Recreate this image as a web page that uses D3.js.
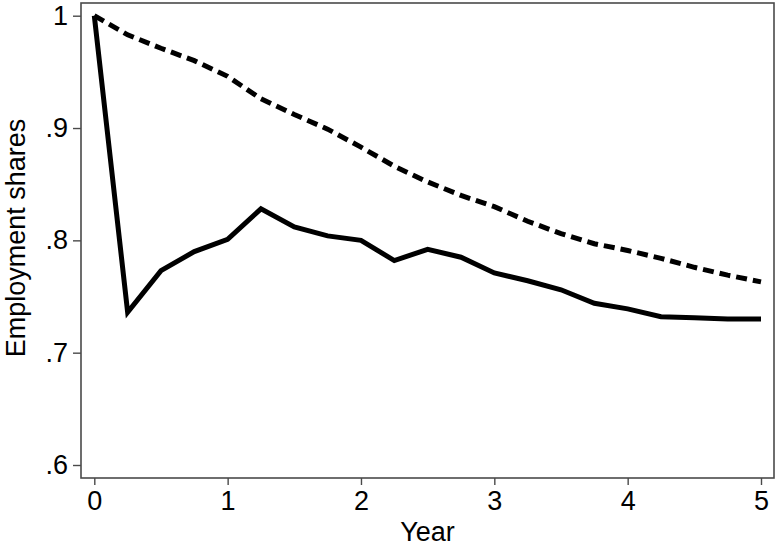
<!DOCTYPE html>
<html>
<head>
<meta charset="utf-8">
<script src="https://cdn.jsdelivr.net/npm/d3@7"></script>
<style>
  body { margin: 0; background: #fff; }
  text { font-family: "Liberation Sans", Arial, sans-serif; fill: #000; }
</style>
</head>
<body>
<div id="chart"></div>
<script>
const years = [0, 0.25, 0.5, 0.75, 1, 1.25, 1.5, 1.75, 2, 2.25, 2.5,
               2.75, 3, 3.25, 3.5, 3.75, 4, 4.25, 4.5, 4.75, 5];
const solidShares = [1.000, 0.736, 0.773, 0.790, 0.801, 0.828, 0.812, 0.804, 0.800, 0.782, 0.792,
                     0.785, 0.771, 0.764, 0.756, 0.744, 0.739, 0.732, 0.731, 0.730, 0.730];
const dashedShares = [1.000, 0.983, 0.971, 0.960, 0.946, 0.926, 0.912, 0.899, 0.883, 0.866, 0.852,
                      0.840, 0.830, 0.817, 0.806, 0.797, 0.791, 0.784, 0.776, 0.769, 0.763];
const xTicks = [0, 1, 2, 3, 4, 5];
const yTicks = [0.6, 0.7, 0.8, 0.9, 1];

const width = 777;
const height = 546;
const frame = { left: 81, top: 3, right: 774, bottom: 478 };

const svg = d3.select("#chart")
  .append("svg")
  .attr("width", width)
  .attr("height", height);

const xScale = d3.scaleLinear()
  .domain([0, 5])
  .range([94.3, 761]);

const yScale = d3.scaleLinear()
  .domain([0.6, 1])
  .range([465, 15.7]);

// plot frame
svg.append("rect")
  .attr("x", frame.left)
  .attr("y", frame.top)
  .attr("width", frame.right - frame.left)
  .attr("height", frame.bottom - frame.top)
  .attr("fill", "none")
  .attr("stroke", "#4a4a4a")
  .attr("stroke-width", 1.6);

const yAxis = svg.append("g")
  .attr("transform", `translate(${frame.left}, 0)`)
  .call(d3.axisLeft(yScale)
    .tickValues(yTicks)
    .tickSize(8)
    .tickPadding(5)
    .tickFormat(d => d === 1 ? "1" : d3.format(".1f")(d).replace(/^0/, "")));

const xAxis = svg.append("g")
  .attr("transform", `translate(0, ${frame.bottom})`)
  .call(d3.axisBottom(xScale)
    .tickValues(xTicks)
    .tickSize(7)
    .tickPadding(6)
    .tickFormat(d3.format("d")));

[xAxis, yAxis].forEach(ax => {
  ax.select(".domain").remove();
  ax.selectAll(".tick line").attr("stroke", "#4a4a4a").attr("stroke-width", 1.4);
  ax.selectAll(".tick text")
    .style("font-size", "27px")
    .style("font-family", "'Liberation Sans', Arial, sans-serif")
    .attr("fill", "#000");
});

svg.append("text")
  .attr("x", (frame.left + frame.right) / 2)
  .attr("y", 541)
  .attr("text-anchor", "middle")
  .style("font-size", "27px")
  .text("Year");

svg.append("text")
  .attr("transform", "rotate(-90)")
  .attr("x", -238)
  .attr("y", 25)
  .attr("text-anchor", "middle")
  .style("font-size", "27px")
  .text("Employment shares");

const line = d3.line()
  .x((d, i) => xScale(years[i]))
  .y(d => yScale(d));

svg.append("path")
  .datum(dashedShares)
  .attr("fill", "none")
  .attr("stroke", "#000")
  .attr("stroke-width", 5)
  .attr("stroke-dasharray", "11,6")
  .attr("d", line);

svg.append("path")
  .datum(solidShares)
  .attr("fill", "none")
  .attr("stroke", "#000")
  .attr("stroke-width", 5)
  .attr("stroke-linejoin", "miter")
  .attr("d", line);
</script>
</body>
</html>
